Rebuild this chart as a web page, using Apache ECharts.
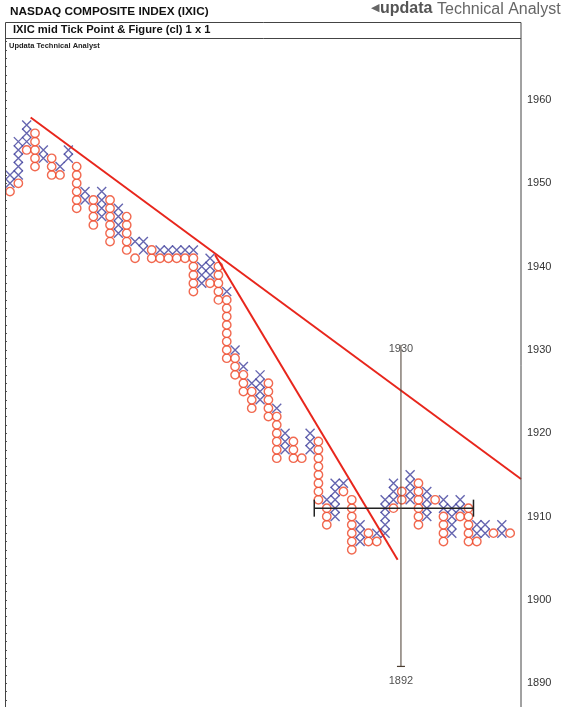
<!DOCTYPE html>
<html><head><meta charset="utf-8">
<script src="https://cdn.jsdelivr.net/npm/echarts@6/dist/echarts.min.js"></script>
<style>html,body{margin:0;padding:0;background:#fff}#c{width:573px;height:707px}</style>
</head><body><div id="c"></div>
<script>
// Point & Figure columns (box size 1, 1-box reversal); index = column number
const xLow  = [1950,1951,1955,null,1953,null,1952,1953,null,1948, null,1946,null,1944,null,1943,1942,null,1942,1942, 1942,1942,1942,1938,1939,null,1937,1930,1928,1926, 1924,null,1923,1918,null,null,1918,null,1912,1910, 1914,null,1907,null,1908,1908,1912,null,1912,null, 1910,null,1911,1908,1911,null,1908,1908,null,1908, null];
const xHigh = [1951,1955,1957,null,1954,null,1952,1954,null,1949, null,1949,null,1947,null,1943,1943,null,1942,1942, 1942,1942,1942,1940,1941,null,1937,1930,1928,1926, 1927,null,1923,1920,null,null,1920,null,1912,1914, 1914,null,1909,null,1908,1912,1914,null,1915,null, 1913,null,1912,1911,1912,null,1909,1909,null,1909, null];
const oLow  = [1949,1950,1954,1952,null,1951,1951,null,1947,null, 1945,null,1943,null,1942,1941,null,1941,1941,1941, 1941,1941,1937,null,1938,1936,1929,1927,1925,1923, null,1922,1917,null,1917,1917,null,1912,1909,null, 1913,1906,null,1907,1907,null,1911,1912,null,1909, null,1912,1907,null,1910,1907,1907,null,1908,null, 1908];
const oHigh = [1949,1950,1954,1956,null,1953,1951,null,1952,null, 1948,null,1948,null,1946,1941,null,1942,1941,1941, 1941,1941,1941,null,1938,1940,1936,1929,1927,1925, null,1926,1922,null,1919,1917,null,1919,1911,null, 1913,1912,null,1908,1907,null,1911,1913,null,1914, null,1912,1910,null,1910,1911,1907,null,1908,null, 1908];
const yTicks = [1890,1900,1910,1920,1930,1940,1950,1960];
// trend lines [column, price]
const trendLong  = [[2.48,1957.9],[61.3,1914.5]];
const trendSteep = [[24.6,1941.4],[46.5,1904.8]];
// horizontal count and vertical price targets
const countLevel = 1911, countStart = 36.5, countEnd = 55.6, countCol = 46.9;
const targetHigh = 1930, targetLow = 1892;

const xPts = [], oPts = [];
for (let c = 0; c < xLow.length; c++) {
  if (xLow[c] != null) for (let v = xLow[c]; v <= xHigh[c]; v++) xPts.push([c, v]);
  if (oLow[c] != null) for (let v = oLow[c]; v <= oHigh[c]; v++) oPts.push([c, v]);
}

const chart = echarts.init(document.getElementById('c'), null, {renderer: 'canvas'});
const FONT = '"Liberation Sans", Arial, sans-serif';
chart.setOption({
  animation: false,
  backgroundColor: '#fff',
  grid: {left: 5, width: 516, top: 38, height: 669, containLabel: false},
  xAxis: {type: 'value', min: -0.6, max: 61.3, show: false},
  yAxis: [{
    type: 'value', position: 'right', min: 1887.13, max: 1967.44, splitNumber: 8,
    axisLine: {show: false}, axisTick: {show: false}, splitLine: {show: false},
    axisLabel: {margin: 6, color: '#333', fontSize: 11, fontFamily: FONT,
      showMinLabel: false, showMaxLabel: false,
      formatter: v => yTicks.indexOf(Math.round(v * 1000) / 1000) >= 0 ? String(v) : ''}
  }, {
    type: 'value', position: 'left', min: 1887.13, max: 1967.44, splitNumber: 80,
    axisLine: {show: false}, splitLine: {show: false}, axisLabel: {show: false},
    axisTick: {show: true, inside: true, length: 2, lineStyle: {color: '#555', width: 1}}
  }],
  series: [
    {type: 'scatter', data: oPts, symbol: 'circle', symbolSize: 8.4, z: 3,
     itemStyle: {color: '#fff', borderColor: '#ee4424', borderWidth: 1.4}, silent: true},
    {type: 'scatter', data: xPts, symbol: 'path://M0,0L10,10M10,0L0,10', symbolSize: 9, z: 4,
     itemStyle: {color: 'rgba(0,0,0,0)', borderColor: '#40409c', borderWidth: 1.4}, silent: true},
    {type: 'line', data: trendLong, showSymbol: false, z: 5, silent: true,
     lineStyle: {color: '#e8261c', width: 2}},
    {type: 'line', data: trendSteep, showSymbol: false, z: 5, silent: true,
     lineStyle: {color: '#e8261c', width: 2}},
    {type: 'line', data: [[countStart, countLevel], [countEnd, countLevel]], z: 6, silent: true,
     symbol: 'rect', symbolSize: [1.5, 17], showSymbol: true, itemStyle: {color: '#222'},
     lineStyle: {color: '#222', width: 1.5}},
    {type: 'line', z: 6, silent: true, itemStyle: {color: '#4a3c30'},
     data: [{value: [countCol, targetHigh + 0.6], symbol: 'none'}, {value: [countCol, targetLow], symbol: 'rect', symbolSize: [8, 1.2]}],
     lineStyle: {color: '#4a3c30', width: 1}},
    {type: 'scatter', z: 7, silent: true, symbolSize: 0,
     data: [{value: [countCol, targetHigh], label: {offset: [0, -1]}}, {value: [countCol, targetLow], label: {offset: [0, 15]}}],
     label: {show: true, position: 'inside', color: '#222', fontSize: 11, fontFamily: FONT,
       formatter: p => String(p.value[1])}}
  ],
  graphic: [
    {type: 'rect', shape: {x: 5.5, y: 22.5, width: 515.5, height: 700}, style: {fill: 'none', stroke: '#444', lineWidth: 1}, silent: true, z: 100},
    {type: 'line', shape: {x1: 5.5, y1: 38.5, x2: 521, y2: 38.5}, style: {stroke: '#444', lineWidth: 1}, silent: true, z: 100},
    {type: 'text', left: 10, top: 6, style: {text: 'NASDAQ COMPOSITE INDEX (IXIC)', font: 'bold 11.8px ' + FONT, fill: '#111'}},
    {type: 'text', left: 13, top: 24, style: {text: 'IXIC mid Tick Point & Figure (cl) 1 x 1', font: 'bold 11.2px ' + FONT, fill: '#111'}},
    {type: 'text', left: 9, top: 42, style: {text: 'Updata Technical Analyst', font: 'bold 7.5px ' + FONT, fill: '#222'}},
    {type: 'text', left: 371, top: 3, style: {text: '◀', font: '11px "DejaVu Sans"', fill: '#666'}},
    {type: 'text', left: 380, top: 1, style: {text: 'updata', font: 'bold 16px ' + FONT, fill: '#555'}},
    {type: 'text', left: 437, top: 2, style: {text: 'Technical Analyst', font: '16px ' + FONT, fill: '#666'}}
  ]
});
</script></body></html>
